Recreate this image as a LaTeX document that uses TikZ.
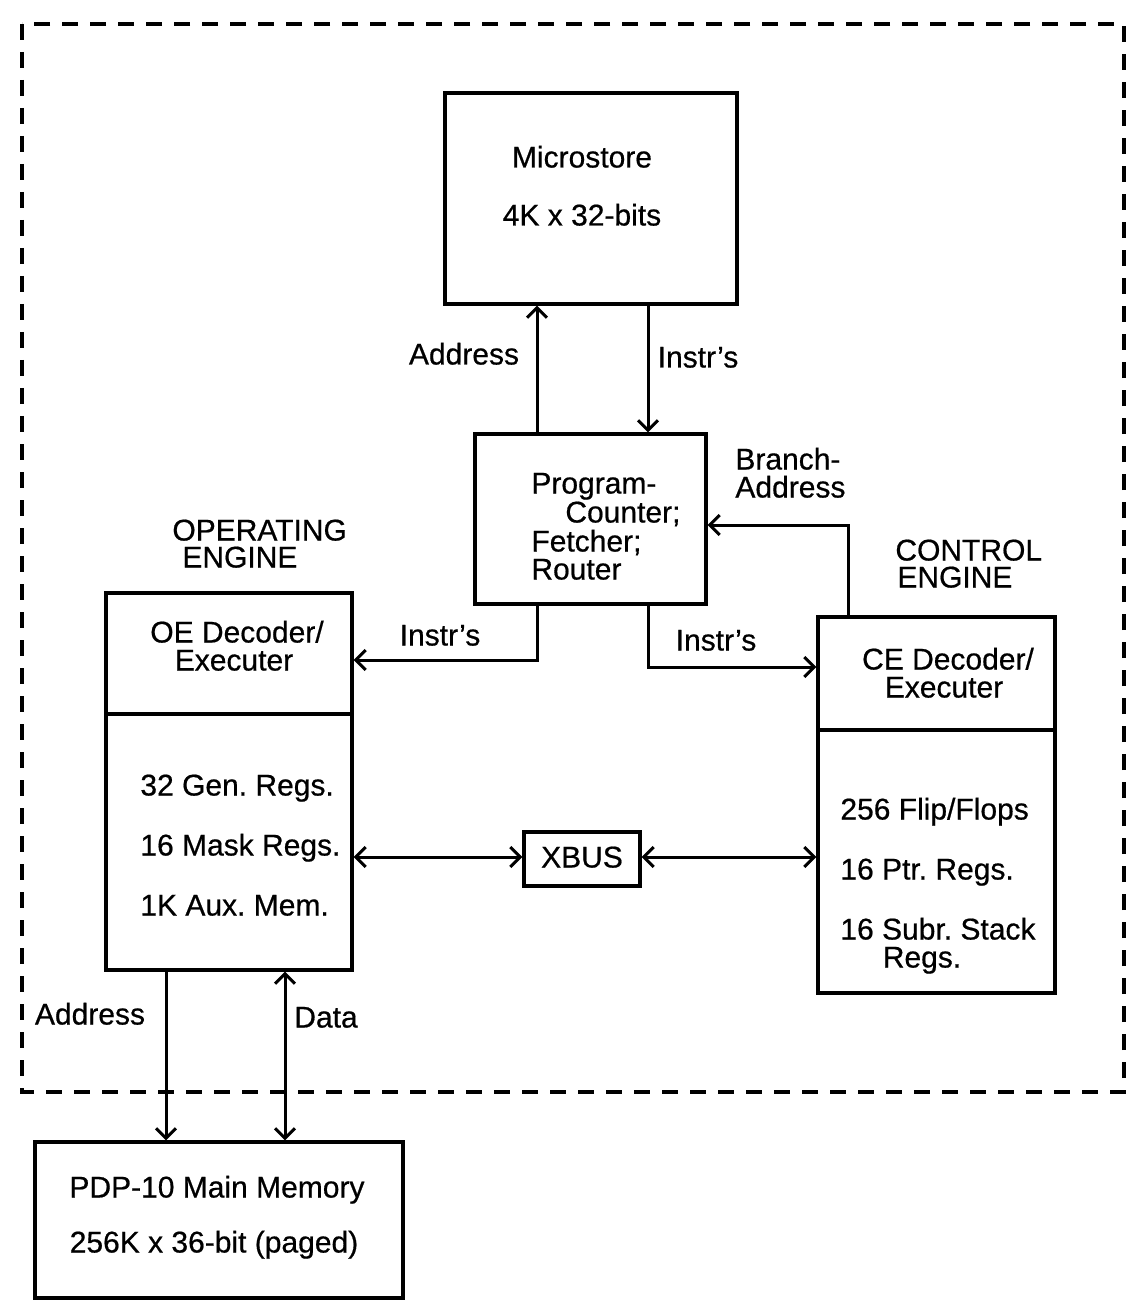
\documentclass[tikz,border=0pt]{standalone}
\usepackage{fontspec}
\setmainfont{Liberation Sans}
\newfontfamily\lblfont{Liberation Sans}[FakeBold=0.6]
\usetikzlibrary{arrows.meta,fit}
\frenchspacing
\begin{document}
\begin{tikzpicture}[x=0.5pt,y=-0.5pt,
  box/.style={draw, line width=1.6pt, inner sep=0pt},
  lbl/.style={font=\lblfont\fontsize{15}{15}\selectfont, inner sep=0pt, text height=10.5pt, text depth=3pt},
  lblw/.style={lbl, anchor=west},
  conn/.style={line width=1.5pt},
  frame/.style={line width=2pt, dash pattern=on 8pt off 6pt},
  >={Straight Barb[length=5pt,width=10pt]}
]
\useasboundingbox (0,0) rectangle (1132,1304);
% dashed enclosure
\draw[frame] (22,24) rectangle (1124,1092);

% boxes
\node[box, fit={(445,93) (737,304)}] (ms) {};
\node[box, fit={(475,434) (706,604)}] (pc) {};
\node[box, fit={(106,593) (352,714)}] (oetop) {};
\node[box, fit={(106,714) (352,970)}] (oebot) {};
\node[box, fit={(818,617) (1055,730)}] (cetop) {};
\node[box, fit={(818,730) (1055,993)}] (cebot) {};
\node[box, fit={(524,832) (640,886)}] (xbus) {};
\node[box, fit={(35,1142) (403,1298)}] (pdp) {};

% box texts
\node[lbl] (mst1) at (582,160) {Microstore};
\node[lbl] (mst2) at (582,218) {4K x 32-bits};
\node[lblw] (pct1) at (531,486) {Program-};
\node[lblw] (pct2) at (565,515) {Counter;};
\node[lblw] (pct3) at (531,544) {Fetcher;};
\node[lblw] (pct4) at (531,572) {Router};
\node[lblw] (oeh1) at (172,533) {OPERATING};
\node[lblw] (oeh2) at (182,560) {ENGINE};
\node[lbl] (oet1) at (237,635) {OE Decoder/};
\node[lbl] (oet2) at (234,663) {Executer};
\node[lblw] (oer1) at (140,788) {32 Gen. Regs.};
\node[lblw] (oer2) at (140,848) {16 Mask Regs.};
\node[lblw] (oer3) at (140,908) {1K Aux. Mem.};
\node[lblw] (ceh1) at (895,553) {CONTROL};
\node[lblw] (ceh2) at (897,580) {ENGINE};
\node[lbl] (cet1) at (948,662) {CE Decoder/};
\node[lbl] (cet2) at (944,690) {Executer};
\node[lblw] (cer1) at (840,812) {256 Flip/Flops};
\node[lblw] (cer2) at (840,872) {16 Ptr. Regs.};
\node[lblw] (cer3) at (840,932) {16 Subr. Stack};
\node[lbl] (cer4) at (922,960) {Regs.};
\node[lbl] (xbt) at (582,860) {XBUS};
\node[lbl] (pdt1) at (217,1190) {PDP-10 Main Memory};
\node[lbl] (pdt2) at (214,1245) {256K x 36-bit (paged)};

% helper coordinates
\coordinate (xa) at (537,0);
\coordinate (xi) at (648,0);
\coordinate (xb) at (848,0);
\coordinate (yb) at (0,525);
\coordinate (yo) at (0,660);
\coordinate (yc) at (0,667);
\coordinate (yx) at (0,857);
\coordinate (xm) at (166,0);
\coordinate (xd) at (285,0);

% connectors
\draw[conn,->] (xa |- pc.north) -- (xa |- ms.south);
\draw[conn,->] (xi |- ms.south) -- (xi |- pc.north);
\draw[conn,->] (xb |- cetop.north) |- (yb -| pc.east);
\draw[conn,->] (xa |- pc.south) |- (yo -| oetop.east);
\draw[conn,->] (xi |- pc.south) |- (yc -| cetop.west);
\draw[conn,<->] (yx -| oebot.east) -- (yx -| xbus.west);
\draw[conn,<->] (yx -| xbus.east) -- (yx -| cebot.west);
\draw[conn,->] (xm |- oebot.south) -- (xm |- pdp.north);
\draw[conn,<->] (xd |- oebot.south) -- (xd |- pdp.north);

% connector labels
\node[lbl] (la1) at (464,357) {Address};
\node[lbl] (li1) at (698,360) {Instr’s};
\node[lblw] (lb1) at (735,462) {Branch-};
\node[lblw] (lb2) at (735,490) {Address};
\node[lbl] (li2) at (440,638) {Instr’s};
\node[lbl] (li3) at (716,643) {Instr’s};
\node[lbl] (la2) at (90,1017) {Address};
\node[lbl] (ld) at (326,1020) {Data};
\end{tikzpicture}
\end{document}
